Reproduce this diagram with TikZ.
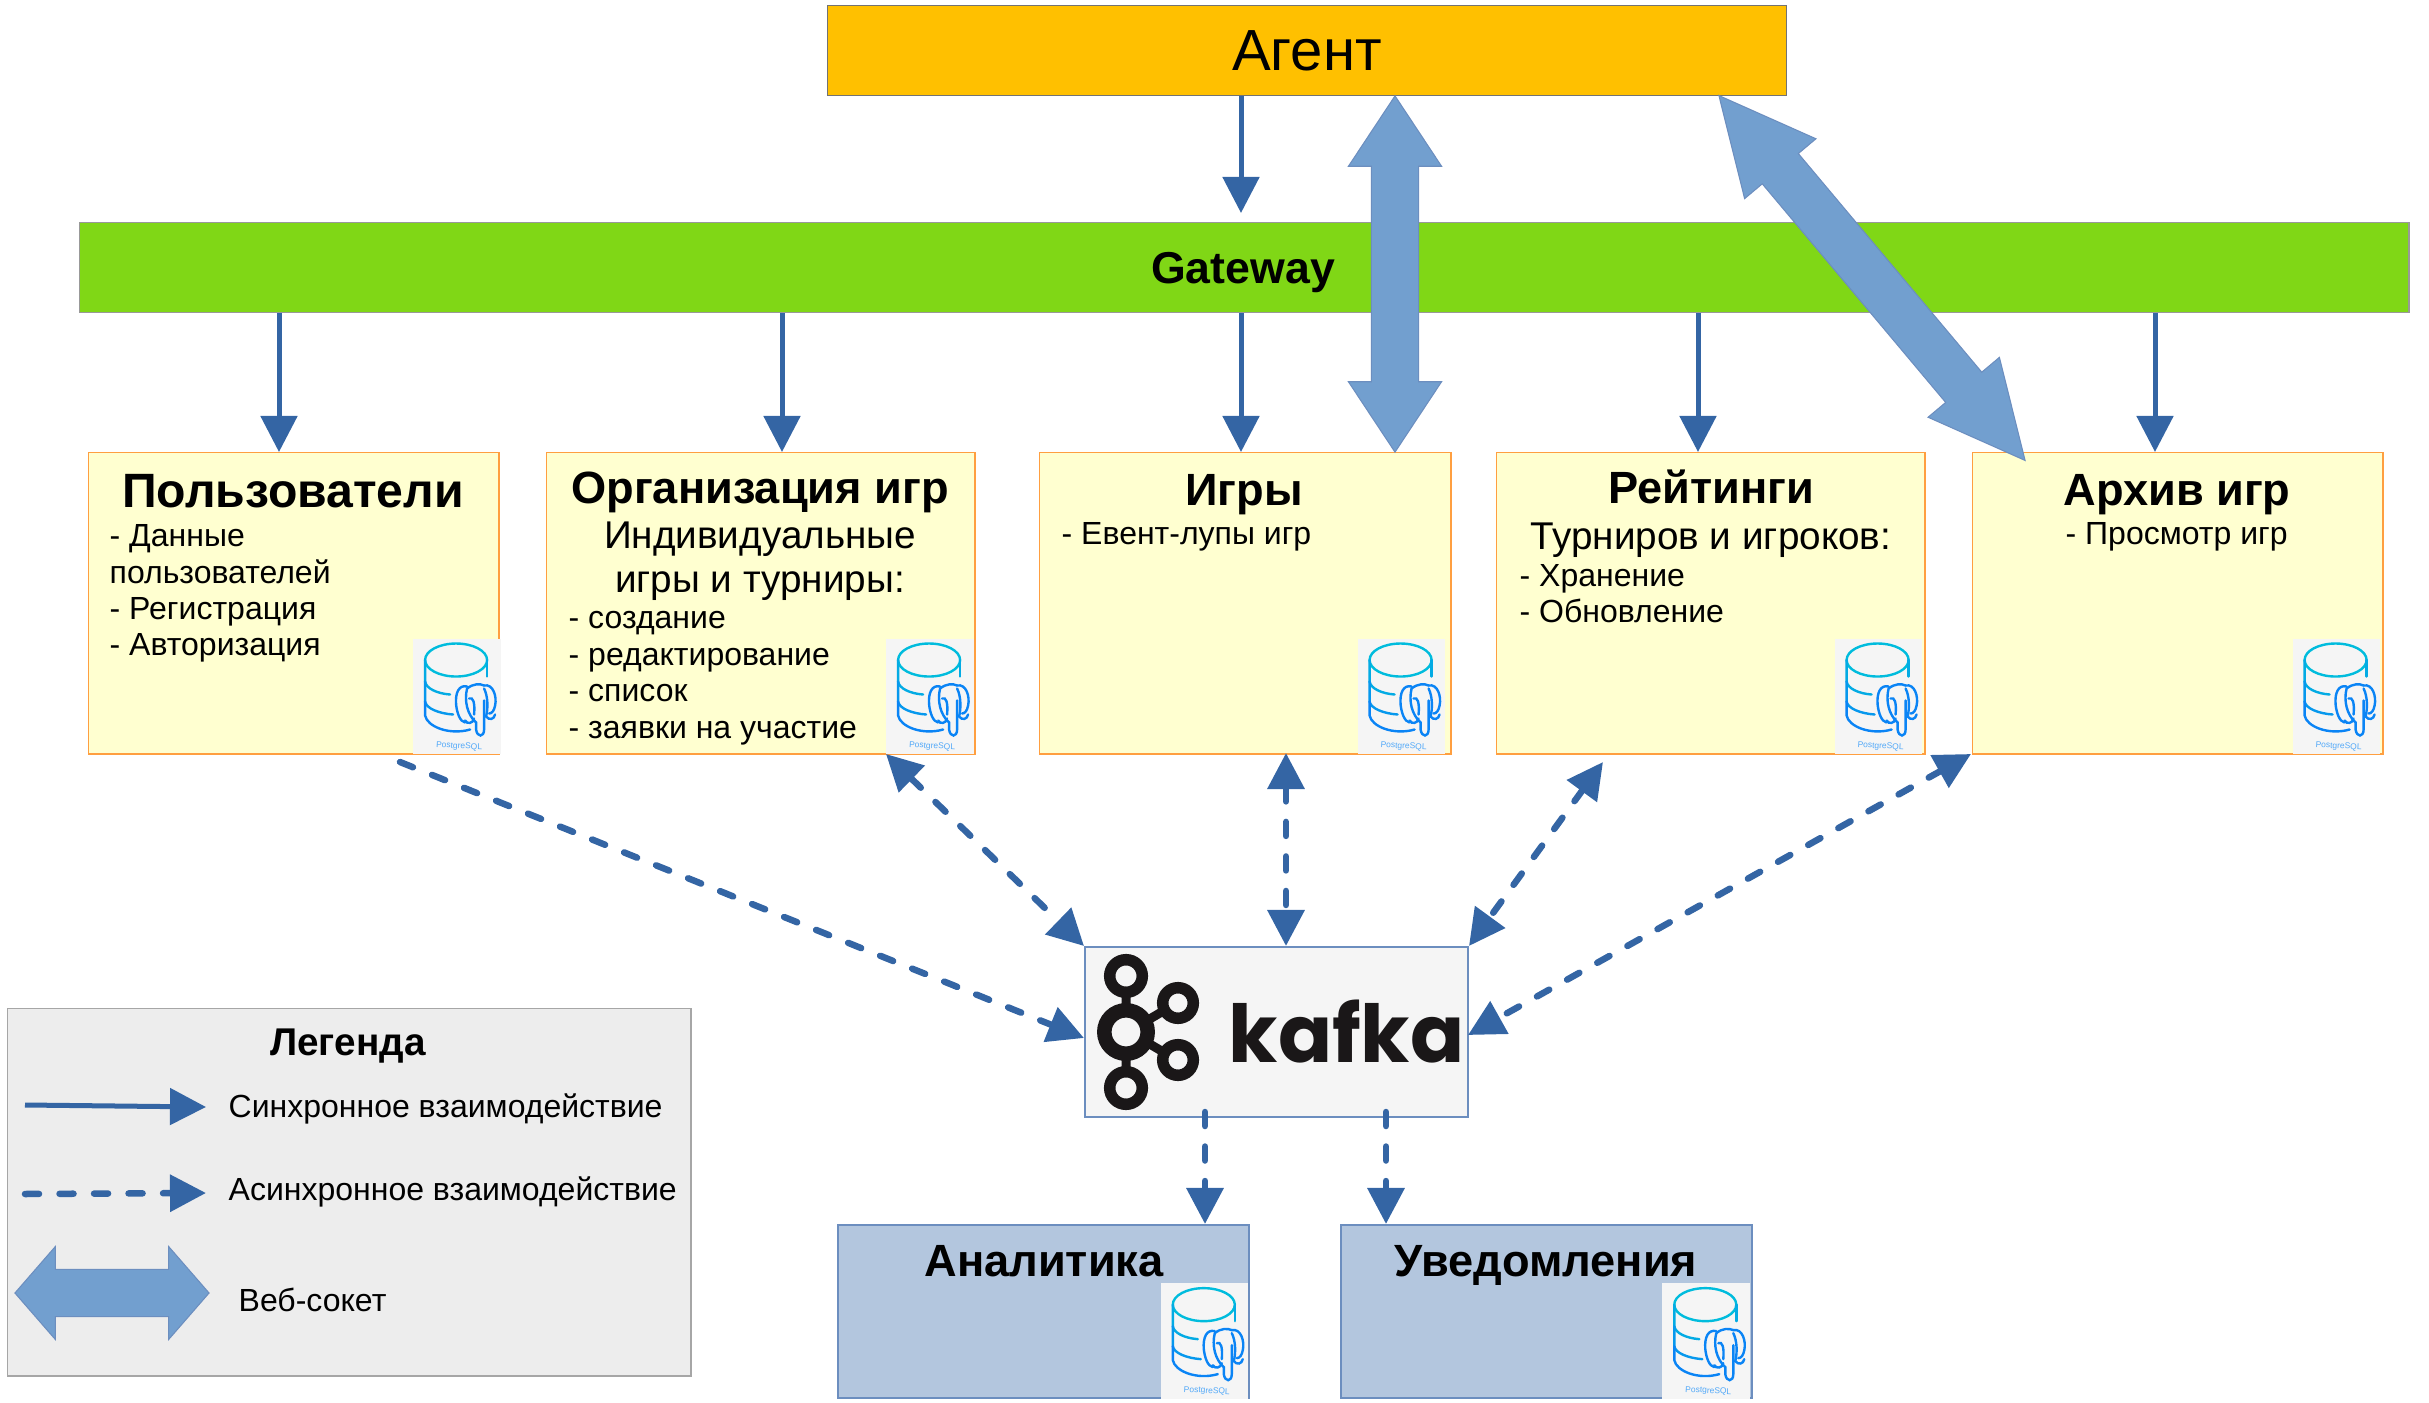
\documentclass[tikz,border=0pt]{standalone}
\usepackage{fontspec}
\setmainfont{Liberation Sans}
\newfontfamily\kafkafont{Poppins}
\usetikzlibrary{arrows.meta,positioning,shapes.arrows}
\definecolor{arrowblue}{HTML}{3465A4}
\definecolor{wsblue}{HTML}{729FCF}
\definecolor{wsedge}{HTML}{6C8EBF}
\definecolor{svcfill}{HTML}{FFFFD0}
\definecolor{svcedge}{HTML}{FF9F40}
\definecolor{bluefill}{HTML}{B3C6DE}
\definecolor{iconfill}{HTML}{F5F5F5}
\definecolor{iconcyan}{HTML}{00BCDD}
\definecolor{iconblue}{HTML}{0A84F5}
\definecolor{kafkablack}{HTML}{1A1718}

\begin{document}
\begin{tikzpicture}[
  x=0.01cm, y=-0.01cm,
  svcbox/.style={draw=svcedge, fill=svcfill, anchor=north west, inner sep=0pt, minimum height=3.01cm, line width=0.4pt},
  bluebox/.style={draw=wsedge, fill=bluefill, anchor=north west, inner sep=0pt, minimum width=4.11cm, minimum height=1.73cm, line width=0.6pt},
  boxtitle/.style={anchor=center, inner sep=0pt, font=\fontsize{12.85}{15}\selectfont\bfseries},
  boxsub/.style={anchor=center, inner sep=0pt, align=center, font=\fontsize{11}{12.4}\selectfont},
  boxbody/.style={anchor=north west, inner sep=0pt, align=left, font=\fontsize{9.1}{10.35}\selectfont},
  legendtext/.style={anchor=west, inner sep=0pt, font=\fontsize{9.1}{10.2}\selectfont},
  syncarr/.style={draw=arrowblue, line width=0.05cm, -{Triangle[length=0.36cm,width=0.36cm]}},
  asyncline/.style={draw=arrowblue, line width=0.065cm, line cap=round, dash pattern=on 0.14cm off 0.205cm},
  asyncarr/.style={asyncline, -{Triangle[length=0.36cm,width=0.36cm]}},
  asyncboth/.style={asyncline, {Triangle[length=0.36cm,width=0.36cm]}-{Triangle[length=0.36cm,width=0.36cm]}},
  wsarr/.style={double arrow, draw=wsedge, fill=wsblue, line width=0.3pt, inner xsep=0pt, inner ysep=0.23cm, double arrow head extend=0.23cm},
  pgicon/.pic={
    \fill[iconfill] (0,0) rectangle (87.5,115.5);
    \begin{scope}[line width=0.024cm, line cap=round]
      \draw[iconcyan] (43,21.5) ellipse [x radius=31, y radius=16.5];
      \draw[iconcyan!70!iconblue] (74,21.5) -- (74,38);
      \draw[iconcyan!70!iconblue] (12,21.5) -- (12,43) .. controls (13,50) and (24,55) .. (37,56);
      \draw[iconcyan!35!iconblue] (12,43) -- (12,63) .. controls (13,70) and (26,75) .. (40,76);
      \draw[iconblue] (12,63) -- (12,77) .. controls (14,88) and (36,97) .. (57,91);
      \draw[iconblue] (54,48) .. controls (46,46) and (42,54) .. (43,66) .. controls (44,75) and (47,83) .. (52,84);
      \draw[iconblue] (54,50) .. controls (60,45) and (67,45) .. (71,47);
      \draw[iconblue] (71,47) .. controls (80,45) and (84,58) .. (82,67) .. controls (81,72) and (79,75) .. (76,75);
      \draw[iconblue] (54,50) .. controls (51,62) and (54,76) .. (63,84) -- (63,91) .. controls (64,99) and (71,99) .. (71,91) -- (71,62);
      \draw[iconblue] (71,50) .. controls (75,58) and (75,70) .. (73,78) .. controls (76,82) and (81,81) .. (82,76);
      \draw[iconblue] (52,82) .. controls (54,86) and (60,85) .. (61,80);
      \draw[iconblue] (56,60) .. controls (60,58) and (62,64) .. (61,76);
    \end{scope}
    \node[inner sep=0pt, rotate=-3, text=iconblue!70, font=\fontsize{2.4}{3}\selectfont] (label) at (46,108) {PostgreSQL};
  }
]
\useasboundingbox (0,0) rectangle (2429,1403);

\node[draw=black!55, fill={rgb,255:red,255;green,192;blue,0}, anchor=north west, inner sep=0pt, minimum width=9.58cm, minimum height=0.90cm, font=\fontsize{16.5}{18}\selectfont] (agent) at (827,5) {Агент};
\node[draw=black!40, fill={rgb,255:red,128;green,215;blue,22}, anchor=north west, inner sep=0pt, minimum width=23.28cm, minimum height=0.90cm] (gateway) at (79,222) {};
\node[inner sep=0pt, font=\fontsize{12.7}{14}\selectfont\bfseries] (gatewayText) at (1243,273) {Gateway};

\node[svcbox, minimum width=4.10cm] (users) at (88,452) {};
\node[svcbox, minimum width=4.28cm] (org) at (546,452) {};
\node[svcbox, minimum width=4.11cm] (games) at (1039,452) {};
\node[svcbox, minimum width=4.28cm] (ratings) at (1496,452) {};
\node[svcbox, minimum width=4.10cm] (archive) at (1972,452) {};

\node[boxtitle, font=\fontsize{13.7}{15}\selectfont\bfseries] (usersTitle) at (293,491) {Пользователи};
\node[boxbody] (usersBody) at (109,524) {- Данные\\пользователей\\- Регистрация\\- Авторизация};
\node[boxtitle] (orgTitle) at (760,492) {Организация игр};
\node[boxsub] (orgSub) at (760,561) {Индивидуальные\\игры и турниры:};
\node[boxbody] (orgBody) at (568,611) {- создание\\- редактирование\\- список\\- заявки на участие};
\node[boxtitle] (gamesTitle) at (1244,495) {Игры};
\node[boxbody] (gamesBody) at (1061,522) {- Евент-лупы игр};
\node[boxtitle] (ratingsTitle) at (1711,487) {Рейтинги};
\node[boxsub] (ratingsSub) at (1711,540) {Турниров и игроков:};
\node[boxbody, font=\fontsize{9.1}{10.1}\selectfont] (ratingsBody) at (1519,564) {- Хранение\\- Обновление};
\node[boxtitle] (archiveTitle) at (2177,495) {Архив игр};
\node[boxbody] (archiveBody) at (2065,522) {- Просмотр игр};

\node[draw=wsedge, fill=iconfill, anchor=north west, inner sep=0pt, minimum width=3.83cm, minimum height=1.70cm, line width=0.5pt] (kafka) at (1084,946) {};
\foreach \nodex/\nodey/\rad/\ringw in {1126/976/16.3/0.115, 1126/1032/21.7/0.145, 1126/1088/16.3/0.115, 1178/1003/15.3/0.115, 1178/1060/15.3/0.115}
  \draw[kafkablack, line width=\ringw cm] (\nodex,\nodey) circle [radius=\rad];
\draw[kafkablack, line width=0.09cm] (1126,995) -- (1126,1008) (1126,1056) -- (1126,1069) (1148,1020) -- (1165,1010) (1148,1043) -- (1165,1053);
\node[anchor=base west, inner sep=0pt, text=kafkablack, font=\kafkafont\fontsize{22.7}{24}\selectfont\bfseries] (kafkaText) at (1228,1062) {kafka};

\node[bluebox] (analytics) at (837,1224) {};
\node[bluebox] (notify) at (1340,1224) {};
\node[boxtitle] (analyticsTitle) at (1044,1261) {Аналитика};
\node[boxtitle] (notifyTitle) at (1546,1265) {Уведомления};

\foreach \boxname/\iconx in {users/0.865,org/0.895,games/0.94,ratings/0.91,archive/0.91,analytics/0.895,notify/0.91}
  \pic at ([xshift=-\iconx cm,yshift=1.16cm]\boxname.south east) {pgicon};

\coordinate (usersTop) at (279,452);
\coordinate (orgTop) at (782,452);
\coordinate (gamesTop) at (1241,452);
\coordinate (ratingsTop) at (1698,452);
\coordinate (archiveTop) at (2155,452);
\coordinate (gatewayIn) at (1241,213);
\draw[syncarr] (agent.south -| gatewayIn) -- (gatewayIn);
\foreach \target in {usersTop,orgTop,gamesTop,ratingsTop,archiveTop}
  \draw[syncarr] (gateway.south -| \target) -- (\target);

\coordinate (usersOut) at (400,762);
\coordinate (orgOut) at (886,754);
\coordinate (gamesOut) at (1286,753);
\coordinate (ratingsOut) at (1603,762);
\coordinate (archiveOut) at (1971,754);
\coordinate (kafkaLeft) at (1084,1038);
\coordinate (kafkaTop) at (1286,946);
\coordinate (kafkaRight) at (1468,1035);
\coordinate (analyticsOut) at (1205,1112);
\coordinate (notifyOut) at (1386,1112);
\draw[asyncarr] (usersOut) -- (kafkaLeft);
\draw[asyncboth] (orgOut) -- (kafka.north west);
\draw[asyncboth] (gamesOut) -- (kafkaTop);
\draw[asyncboth] (ratingsOut) -- (kafka.north east);
\draw[asyncboth] (archiveOut) -- (kafkaRight);
\draw[asyncarr] (analyticsOut) -- (analyticsOut |- analytics.north);
\draw[asyncarr] (notifyOut) -- (notifyOut |- notify.north);

\node[wsarr, minimum height=3.56cm, double arrow tip angle=67, rotate=90] (wsGames) at (1395,274) {};
\node[wsarr, minimum height=4.76cm, double arrow tip angle=52, rotate=-50] (wsArchive) at (1872,278) {};

\node[draw=black!35, fill=black!7, anchor=north west, inner sep=0pt, minimum width=6.83cm, minimum height=3.67cm] (legend) at (7,1008) {};
\node[inner sep=0pt, font=\fontsize{11}{12}\selectfont\bfseries] (legendTitle) at (348,1046) {Легенда};
\coordinate (syncFrom) at (25,1105);
\coordinate (syncTo) at (206,1107);
\coordinate (asyncFrom) at (25,1194);
\coordinate (asyncTo) at (206,1193);
\draw[syncarr] (syncFrom) -- (syncTo);
\draw[asyncarr] (asyncFrom) -- (asyncTo);
\node[wsarr, minimum height=1.94cm, double arrow tip angle=98] (legendWs) at (112,1293) {};
\node[legendtext] (syncText) at (228,1109) {Синхронное взаимодействие};
\node[legendtext] (asyncText) at (228,1192) {Асинхронное взаимодействие};
\node[legendtext] (wsText) at (238,1300) {Веб-сокет};
\end{tikzpicture}
\end{document}
